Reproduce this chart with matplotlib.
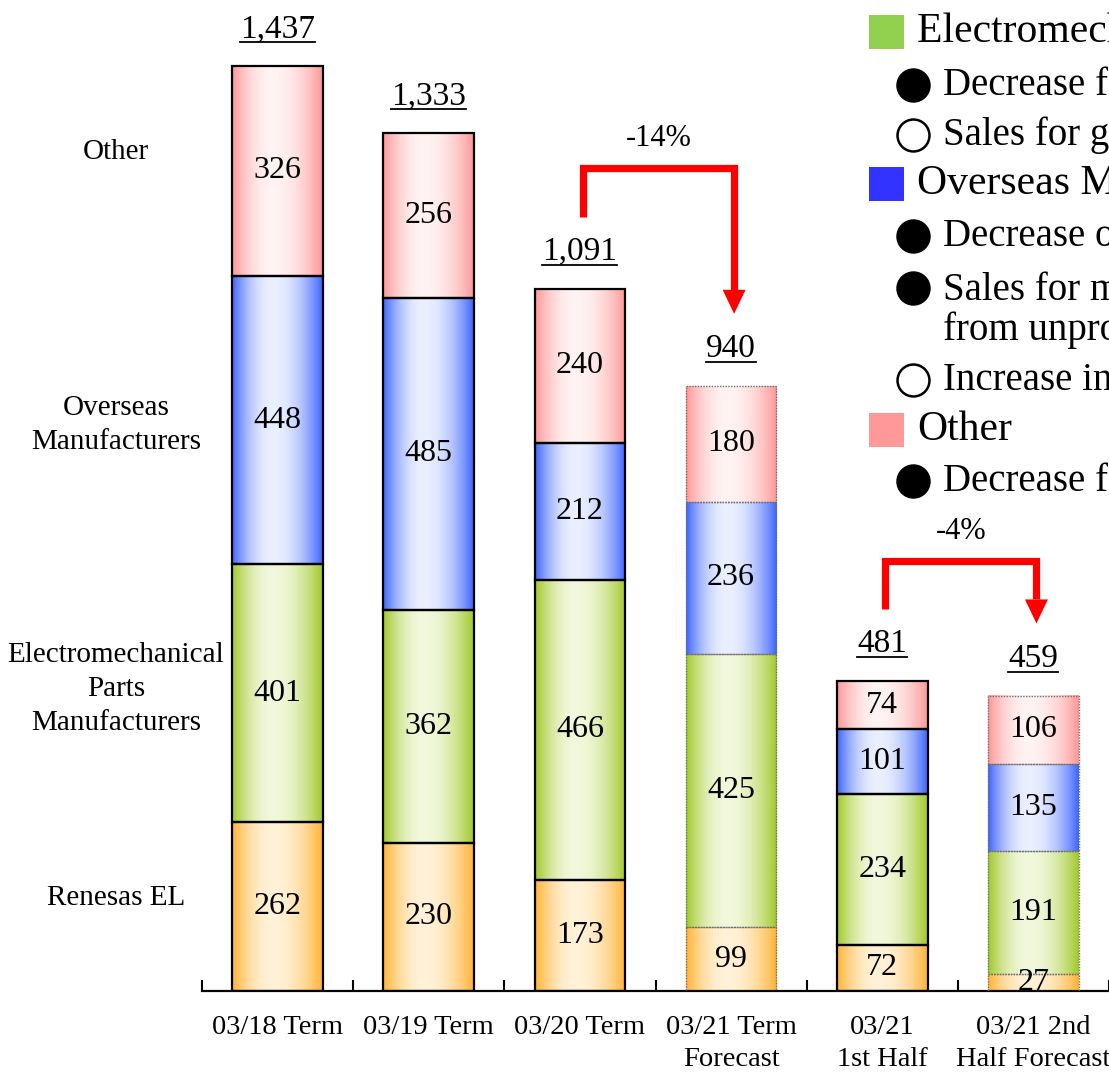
import numpy as np
import matplotlib
matplotlib.use("Agg")
import matplotlib.pyplot as plt
from matplotlib.patches import Rectangle, Polygon
from matplotlib.lines import Line2D
from matplotlib.colors import to_rgb

plt.rcParams['font.family'] = ['Liberation Serif', 'DejaVu Serif']

# ---- data (units: 100 million yen) ----
periods = ["03/18 Term", "03/19 Term", "03/20 Term", "03/21 Term\nForecast",
           "03/21\n1st Half", "03/21 2nd\nHalf Forecast"]
renesas_el = [262, 230, 173, 99, 72, 27]
electromech = [401, 362, 466, 425, 234, 191]
overseas = [448, 485, 212, 236, 101, 135]
other = [326, 256, 240, 180, 74, 106]
totals = [1437, 1333, 1091, 940, 481, 459]
is_forecast = [False, False, False, True, False, True]

segment_names = ["Renesas EL", "Electromechanical\nParts\nManufacturers",
                 "Overseas\nManufacturers", "Other"]
segments = [renesas_el, electromech, overseas, other]

# change arrows: (from index, to index, label)
changes = [(2, 3, "-14%"), (4, 5, "-4%")]

legend_items = [
    ("square", "#92D050", "Electromechanical Parts Manufacturers"),
    ("filled", None, "Decrease for automotive applications"),
    ("open", None, "Sales for game consoles"),
    ("square", "#3333FF", "Overseas Manufacturers"),
    ("filled", None, "Decrease of low-margin products"),
    ("filled", None, "Sales for mobile devices\nfrom unprofitable customers"),
    ("open", None, "Increase in new customers"),
    ("square", "#FF9999", "Other"),
    ("filled", None, "Decrease for industrial equipment"),
]

# ---- styling ----
edge_colors = ["#FFB232", "#A0C828", "#3C64FF", "#FF9696"]
center_colors = ["#FFF2D8", "#F2F8DC", "#EBF0FF", "#FFF3F3"]

W, H = 1109, 1073
fig = plt.figure(figsize=(W / 100, H / 100), dpi=100)
ax_left, ax_bottom_px = 202, 991
ax = fig.add_axes([ax_left / W, 1 - ax_bottom_px / H, (W - ax_left) / W, ax_bottom_px / H])
ax.set_xlim(-0.5, 5.49)
ax.set_ylim(0, 1539.5)

bar_w = 0.6


def gradient_row(c_edge, c_center, n=256):
    t = np.linspace(0, 1, n)
    peak = 0.45
    d = np.where(t < peak, (peak - t) / peak, (t - peak) / (1 - peak))
    w = 1 - d ** 2.0
    e = np.array(to_rgb(c_edge))
    c = np.array(to_rgb(c_center))
    return (e[None, :] * (1 - w[:, None]) + c[None, :] * w[:, None])[None, :, :]


for i in range(len(periods)):
    bottom = 0
    for k, seg in enumerate(segments):
        v = seg[i]
        x0 = i - bar_w / 2
        ax.imshow(gradient_row(edge_colors[k], center_colors[k]),
                  extent=(x0, x0 + bar_w, bottom, bottom + v),
                  aspect='auto', interpolation='bilinear', zorder=2)
        if is_forecast[i]:
            rect = Rectangle((x0, bottom), bar_w, v, facecolor='none',
                             edgecolor='#6E6E6E', linewidth=1.0,
                             linestyle=(0, (1, 1)), zorder=3)
        else:
            rect = Rectangle((x0, bottom), bar_w, v, facecolor='none',
                             edgecolor='black', linewidth=1.6, zorder=3)
        ax.add_patch(rect)
        ax.text(i, bottom + v / 2, f"{v}", ha='center', va='center',
                fontsize=23, zorder=4)
        bottom += v

# totals above each bar
total_off = 29
total_texts = []
for i, t in enumerate(totals):
    txt = ax.annotate(f"{t:,}", xy=(i, t), xytext=(0, total_off),
                      textcoords='offset pixels', ha='center', va='baseline',
                      fontsize=24)
    total_texts.append(txt)

# category labels left of the first bar
label_offsets = [13, 6, -8, 30]
bottom = 0
for k, seg in enumerate(segments):
    mid = bottom + seg[0] / 2
    ax.text(-1.07, mid + label_offsets[k], segment_names[k], ha='center',
            va='center', multialignment='center', fontsize=21,
            linespacing=1.4, clip_on=False)
    bottom += seg[0]

# change arrows
px_y = 1539.5 / 991.0   # data units per pixel (vertical)
px_x = 1.0 / 151.4      # data units per pixel (horizontal)
for a, b, lab in changes:
    y_start = totals[a] + 112
    y_top = totals[a] + 187
    y_tip = totals[b] + 112
    head_len = 24 * px_y
    head_half = 11.5 * px_x
    xa, xb = a + 0.02, b + 0.02
    ax.plot([xa, xa, xb, xb], [y_start, y_top, y_top, y_tip + head_len],
            color='#FF0000', linewidth=5.2, solid_joinstyle='miter',
            solid_capstyle='butt', zorder=5, clip_on=False)
    ax.add_patch(Polygon([[xb - head_half, y_tip + head_len],
                          [xb + head_half, y_tip + head_len],
                          [xb, y_tip]], closed=True, facecolor='#FF0000',
                         edgecolor='none', zorder=5))
    ax.text((a + b) / 2 + 0.02, y_top + 46, lab, ha='center', va='center',
            fontsize=22)

# axes styling
for s in ['left', 'right', 'top']:
    ax.spines[s].set_visible(False)
ax.spines['bottom'].set_linewidth(1.6)
ax.set_yticks([])
ax.set_xticks(np.arange(-0.5, 6.0, 1.0))
ax.set_xticklabels([])
ax.tick_params(axis='x', which='major', direction='in', length=8, width=1.5)
ax.set_xticks(np.arange(len(periods)), minor=True)
ax.set_xticklabels(periods, minor=True, fontsize=20.5, linespacing=1.38)
ax.tick_params(axis='x', which='minor', length=0, pad=17)

# legend block on the right
def fig_px(x, y):
    return x / W, 1 - y / H


rows_y = [32, 85, 135, 184, 236, 288, 380, 430, 481]
for (kind, col, text), y in zip(legend_items, rows_y):
    if kind == "square":
        x0, y0 = fig_px(869, y + 17)
        fig.patches.append(Rectangle((x0, y0), 35 / W, 34 / H, facecolor=col,
                                     edgecolor='none', transform=fig.transFigure))
        fig.text(*fig_px(917, y), text, fontsize=30, va='center', ha='left')
    else:
        mx, my = fig_px(913, y)
        fig.add_artist(Line2D([mx], [my], marker='o', markersize=23,
                              markerfacecolor='black' if kind == "filled" else 'white',
                              markeredgecolor='black', markeredgewidth=1.8,
                              transform=fig.transFigure))
        if '\n' in text:
            fig.text(*fig_px(943, y - 16), text, fontsize=28, va='top', ha='left',
                     linespacing=1.1)
        else:
            fig.text(*fig_px(943, y), text, fontsize=28, va='center', ha='left')

# underline the totals
fig.canvas.draw()
renderer = fig.canvas.get_renderer()
inv = fig.transFigure.inverted()
for txt in total_texts:
    bb = txt.get_window_extent(renderer)
    y_line = ax.transData.transform(txt.xy)[1] + total_off - 5
    p0 = inv.transform((bb.x0, y_line))
    p1 = inv.transform((bb.x1, y_line))
    fig.add_artist(Line2D([p0[0], p1[0]], [p0[1], p1[1]], color='black',
                          linewidth=1.3, transform=fig.transFigure))

fig.savefig("out.png", dpi=100)
